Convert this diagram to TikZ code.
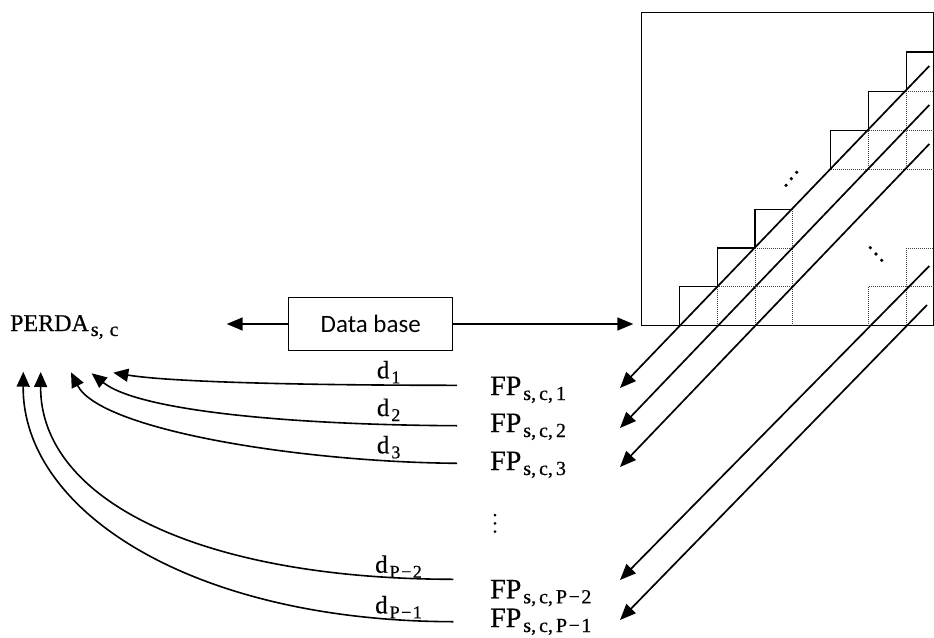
\documentclass[tikz,border=0pt]{standalone}
\usepackage{fontspec}
\setmainfont{Liberation Serif}[FakeBold=0.5]
\newfontfamily\calfont{Carlito}
\usetikzlibrary{arrows.meta}
\newcommand\lowsub[2][20]{\kern2pt\raisebox{-5pt}{\fontsize{#1}{#1}\selectfont #2}}
\newcommand\cm{,\kern3pt}
\newcommand\mn{\kern1.5pt−\kern1.5pt}
\begin{document}
\begin{tikzpicture}[x=1pt,y=1pt,
  thickline/.style={line width=1.5pt},
  diag/.style={line width=1.7pt,-{Triangle[length=16pt,width=13pt]}},
  curv/.style={line width=1.6pt,-{Triangle[length=15pt,width=13pt]}},
  grid/.style={line width=0.7pt,black!75,dash pattern=on 1pt off 1pt},
  lbl/.style={inner sep=0pt,anchor=base west},
  dotc/.style={fill=black,circle,inner sep=0pt,minimum size=3.6pt}]
\useasboundingbox (0,0) rectangle (934,-637);
% ---------- matrix box ----------
\draw[thickline] (641.7,-12.7) rectangle (933.3,-325.7);
% lower-left stair
\draw[thickline] (679.3,-325.7) -- (679.3,-286.7) -- (717.3,-286.7) -- (717.3,-248) -- (755,-248) -- (755,-209.3) -- (792,-209.3);
\draw[grid] (792,-209.3) -- (792,-325.7);
\draw[grid] (717.3,-286.7) -- (792,-286.7);
\draw[grid] (755,-248) -- (792,-248);
\draw[grid] (717.3,-286.7) -- (717.3,-325.7);
\draw[grid] (755,-248) -- (755,-325.7);
% upper stair
\draw[thickline] (830.7,-169.3) -- (830.7,-130.7) -- (868.5,-130.7) -- (868.5,-91.3) -- (906.3,-91.3) -- (906.3,-52) -- (934,-52);
\draw[grid] (830.7,-169.3) -- (934,-169.3);
\draw[grid] (868.5,-130.7) -- (934,-130.7);
\draw[grid] (906.3,-91.3) -- (934,-91.3);
\draw[grid] (868.5,-130.7) -- (868.5,-169.3);
\draw[grid] (906.3,-91.3) -- (906.3,-169.3);
% lower-right grid
\draw[grid] (906.3,-248) -- (934,-248);
\draw[grid] (868.5,-286.7) -- (934,-286.7);
\draw[grid] (868.5,-286.7) -- (868.5,-325.7);
\draw[grid] (906.3,-248) -- (906.3,-325.7);
% dots
\node[dotc] (u1) at (786,-185.3) {};
\node[dotc] (u2) at (791.3,-178.7) {};
\node[dotc] (u3) at (796.7,-172.3) {};
\node[dotc] (w1) at (870.3,-247.7) {};
\node[dotc] (w2) at (876,-254) {};
\node[dotc] (w3) at (881.7,-260.3) {};
% diagonal lines
\coordinate (t1) at (929.3,-66);
\coordinate (t2) at (929.3,-105);
\coordinate (t3) at (929.3,-144);
\coordinate (t4) at (929.3,-266);
\coordinate (t5) at (927,-305);
\coordinate (a1) at (620,-388);
\coordinate (a2) at (620,-428);
\coordinate (a3) at (620,-467);
\coordinate (a4) at (620,-580);
\coordinate (a5) at (620,-620);
\draw[diag] (t1) -- (a1);
\draw[diag] (t2) -- (a2);
\draw[diag] (t3) -- (a3);
\draw[diag] (t4) -- (a4);
\draw[diag] (t5) -- (a5);
% ---------- data base ----------
\node[draw,thickline,minimum width=164pt,minimum height=53.4pt,inner sep=0pt] (db) at (370.7,-324) {\calfont\fontsize{25}{25}\selectfont Data base};
\coordinate (dbl) at (226.7,-324);
\coordinate (dbr) at (633.3,-324);
\draw[thickline,-{Triangle[length=16pt,width=13pt]}] (db.west) -- (dbl);
\draw[thickline,-{Triangle[length=16pt,width=13pt]}] (db.east) -- (dbr);
% PERDA
\node[lbl] (perda) at (10,-331) {\fontsize{24}{24}\selectfont PERDA\lowsub[20]{s,\kern6pt c}};
% FP labels
\node[lbl] (fp1) at (490,-395) {\fontsize{28}{28}\selectfont FP\lowsub{s\cm c\cm 1}};
\node[lbl] (fp2) at (490,-432) {\fontsize{28}{28}\selectfont FP\lowsub{s\cm c\cm 2}};
\node[lbl] (fp3) at (490,-470) {\fontsize{28}{28}\selectfont FP\lowsub{s\cm c\cm 3}};
\node[lbl] (fp4) at (490,-598.3) {\fontsize{28}{28}\selectfont FP\lowsub{s\cm c\cm P\mn 2}};
\node[lbl] (fp5) at (490,-627) {\fontsize{28}{28}\selectfont FP\lowsub{s\cm c\cm P\mn 1}};
\node[dotc,minimum size=3pt] (v1) at (495,-515) {};
\node[dotc,minimum size=3pt] (v2) at (495,-523.3) {};
\node[dotc,minimum size=3pt] (v3) at (495,-531.7) {};
% d labels
\node[lbl] (d1) at (376.7,-378.3) {\fontsize{25}{25}\selectfont d\lowsub[18]{1}};
\node[lbl] (d2) at (376.7,-416) {\fontsize{25}{25}\selectfont d\lowsub[18]{2}};
\node[lbl] (d3) at (376.7,-453.3) {\fontsize{25}{25}\selectfont d\lowsub[18]{3}};
\node[lbl] (d4) at (375,-572.7) {\fontsize{25}{25}\selectfont d\lowsub[18]{P\mn 2}};
\node[lbl] (d5) at (375,-613.3) {\fontsize{25}{25}\selectfont d\lowsub[18]{P\mn 1}};
% curves
\coordinate (s1) at (457,-385.3);
\coordinate (s2) at (457,-425.7);
\coordinate (s3) at (457,-463.3);
\coordinate (s4) at (453.3,-579.3);
\coordinate (s5) at (453.3,-621.7);
\coordinate (e1) at (113.3,-372.7);
\coordinate (e2) at (91.7,-373.3);
\coordinate (e3) at (71,-372.3);
\coordinate (e4) at (40.7,-372);
\coordinate (e5) at (23.3,-371.7);
\draw[curv] (s1) .. controls (300,-385.3) and (170,-382) .. (e1);
\draw[curv] (s2) .. controls (300,-425) and (140,-412) .. (e2);
\draw[curv] (s3) .. controls (300,-462) and (100,-430) .. (e3);
\draw[curv] (s4) .. controls (200,-579) and (40,-500) .. (e4);
\draw[curv] (s5) .. controls (190,-621) and (22,-510) .. (e5);
\end{tikzpicture}
\end{document}
